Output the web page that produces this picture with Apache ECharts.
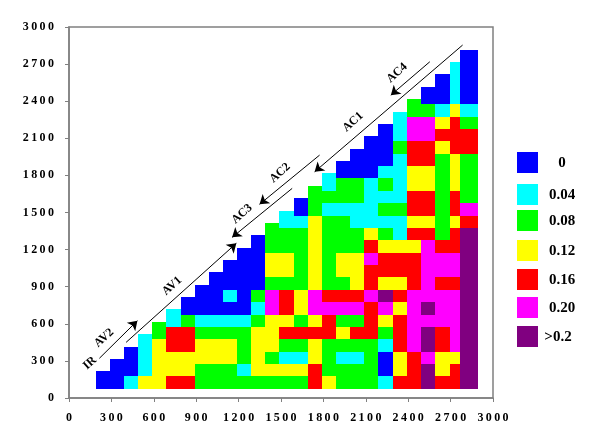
<!DOCTYPE html>
<html>
<head>
<meta charset="utf-8">
<style>
    html, body { margin: 0; background: #fff; }
    #chart { width: 600px; height: 448px; }
</style>
<script src="https://cdn.jsdelivr.net/npm/echarts@6/dist/echarts.min.js"></script>
</head>
<body>
<div id="chart"></div>
<script>
    const levelColors = ['#0000FF', '#00FFFF', '#00FF00', '#FFFF00', '#FF0000', '#FF00FF', '#800080'];
    const levelLabels = ['0', '0.04', '0.08', '0.12', '0.16', '0.20', '>0.2'];

    // 每行从下往上, 数值是 levelColors 的下标, 行首从对角线开始
    const rows = [
        [0,0,1,3,3,4,4,2,2,2,2,2,2,2,2,4,3,2,2,2,1,4,4,6,4,4,6],
        [0,0,0,1,3,3,3,2,2,2,1,3,3,3,3,4,2,2,2,2,0,3,4,6,3,4,6],
        [0,0,1,3,3,3,3,3,3,2,3,2,1,1,3,2,1,1,2,0,3,4,5,3,3,6],
        [0,1,3,4,4,3,3,3,2,3,3,2,2,3,2,2,2,2,1,4,5,6,4,5,6],
        [1,2,4,4,2,2,2,2,3,3,4,4,4,4,3,4,4,2,4,5,6,4,5,6],
        [2,1,2,1,1,1,1,2,3,3,2,3,4,2,2,4,3,4,5,5,5,5,6],
        [1,0,0,0,0,0,1,5,4,3,5,5,5,5,4,5,3,5,6,5,5,6],
        [0,0,0,1,0,2,5,4,3,5,4,4,4,5,6,4,5,5,5,5,6],
        [0,0,0,0,0,2,2,2,3,2,2,3,4,3,3,4,5,4,4,6],
        [0,0,0,0,3,3,2,3,2,3,3,4,4,4,4,5,5,5,6],
        [0,0,0,3,3,2,3,2,3,3,5,4,4,4,5,5,5,6],
        [0,0,2,2,2,3,2,2,2,4,3,3,3,5,4,4,6],
        [0,2,2,2,3,2,2,2,3,2,1,4,4,2,4,6],
        [2,1,1,3,2,2,1,1,1,1,3,3,2,3,4],
        [1,0,2,1,1,1,1,2,2,4,4,2,4,5],
        [0,2,2,2,2,1,1,1,4,4,2,4,2],
        [2,1,2,2,1,2,1,3,3,2,3,2],
        [1,0,0,0,1,1,3,3,2,3,2],
        [0,0,0,0,1,4,4,2,3,2],
        [0,0,0,2,4,4,3,4,4],
        [0,0,1,5,5,4,4,4],
        [0,1,5,5,3,4,2],
        [1,2,2,1,3,1],
        [2,0,0,1,0],
        [0,0,1,0],
        [0,1,0],
        [1,0],
        [0]
    ];

    // 单元格边界 (坐标轴单位), 最后两列宽度不同
    const xEdges = [189,289,389,489,589,689,789,889,989,1089,1189,1289,1389,1489,1589,1689,1789,1889,1989,2089,2189,2289,2389,2489,2589,2697,2766,2892];
    const yEdges = [75,175,275,375,475,575,675,775,875,975,1075,1175,1275,1375,1475,1575,1675,1775,1875,1975,2075,2175,2275,2375,2475,2575,2675,2775,2875];
    const columnTops = [216,316,416,516,616,716,816,916,1016,1116,1216,1316,1416,1516,1616,1716,1816,1916,2016,2116,2216,2316,2416,2516,2616,2716,2816];

    const arrowLines = [
        [[215, 321], [484, 625]],
        [[404, 450], [1184, 1251]],
        [[1579, 1695], [1154, 1299]],
        [[1773, 1964], [1348, 1566]],
        [[2785, 2854], [1738, 1829]],
        [[2553, 2719], [2277, 2449]]
    ];

    const regionNames = ['IR', 'AV2', 'AV1', 'AC3', 'AC2', 'AC1', 'AC4'];
    const regionCenters = [[90, 363], [104, 338], [172, 286], [242, 214], [280, 173], [353, 122], [397, 73]];
    const legendTops = [152, 184, 210, 240, 269, 297, 326];

    const cells = [];
    rows.forEach((row, r) => {
        const start = Math.max(0, r - 1);
        row.forEach((level, i) => {
            cells.push([start + i, r, level]);
        });
    });

    const chart = echarts.init(document.getElementById('chart'));

    const spaced = value => String(value).split('').join('\u2009');
    const axisCommon = {
        type: 'value',
        min: 0,
        max: 3000,
        interval: 300,
        splitLine: { show: false },
        axisLine: { show: true, onZero: false, lineStyle: { color: '#808080', width: 1.5 } },
        axisTick: { show: true, length: 4, lineStyle: { color: '#808080', width: 1 } }
    };
    const labelCommon = {
        color: '#000',
        fontFamily: 'Liberation Serif',
        fontWeight: 'bold',
        fontSize: 12,
        formatter: spaced
    };

    const graphics = [];
    regionNames.forEach((name, i) => {
        graphics.push({
            type: 'text',
            x: regionCenters[i][0],
            y: regionCenters[i][1],
            rotation: 42 * Math.PI / 180,
            style: {
                text: name,
                fill: '#000',
                font: 'bold 12px "Liberation Serif"',
                align: 'center',
                verticalAlign: 'middle'
            }
        });
    });
    levelLabels.forEach((label, i) => {
        graphics.push({
            type: 'rect',
            shape: { x: 517, y: legendTops[i], width: 21, height: 21 },
            style: { fill: levelColors[i] }
        });
        graphics.push({
            type: 'text',
            x: label === '>0.2' ? 558 : 562,
            y: legendTops[i] + 11,
            style: {
                text: label,
                fill: '#000',
                font: 'bold 15px "Liberation Serif"',
                align: 'center',
                verticalAlign: 'middle'
            }
        });
    });

    chart.setOption({
        animation: false,
        backgroundColor: '#fff',
        grid: {
            show: true,
            left: 69,
            right: 107,
            top: 27,
            bottom: 50,
            borderColor: '#808080',
            borderWidth: 1.5,
            backgroundColor: '#fff'
        },
        xAxis: Object.assign({}, axisCommon, {
            axisLabel: Object.assign({}, labelCommon, { margin: 14 })
        }),
        yAxis: Object.assign({}, axisCommon, {
            axisLabel: Object.assign({}, labelCommon, { margin: 15 })
        }),
        series: [{
            type: 'custom',
            coordinateSystem: 'cartesian2d',
            data: cells,
            encode: { x: 0, y: 1 },
            renderItem(params, api) {
                const col = api.value(0);
                const row = api.value(1);
                const top = Math.min(yEdges[row + 1], columnTops[col]);
                const p0 = api.coord([xEdges[col], top]);
                const p1 = api.coord([xEdges[col + 1], yEdges[row]]);
                const x = Math.round(p0[0]);
                const y = Math.round(p0[1]);
                return {
                    type: 'rect',
                    shape: { x: x, y: y, width: Math.round(p1[0]) - x, height: Math.round(p1[1]) - y },
                    style: { fill: levelColors[api.value(2)] }
                };
            },
            markLine: {
                silent: true,
                symbol: ['none', 'arrow'],
                symbolSize: 9,
                label: { show: false },
                lineStyle: { color: '#000', width: 1, type: 'solid' },
                data: arrowLines.map(line => [{ coord: line[0] }, { coord: line[1] }])
            }
        }],
        graphic: graphics
    });
</script>
</body>
</html>
